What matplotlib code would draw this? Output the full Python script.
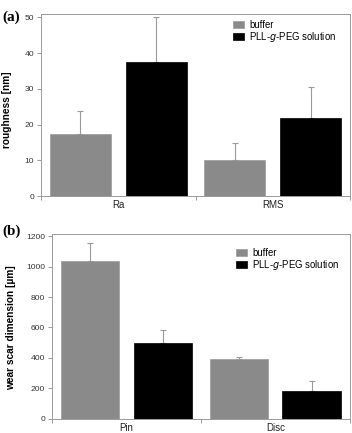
import numpy as np
import matplotlib.pyplot as plt

# panel (a): surface roughness
rough_cats = ['Ra', 'RMS']
rough_buffer = [17.3, 10.2]
rough_buffer_err = [6.6, 4.7]
rough_peg = [37.4, 22.0]
rough_peg_err = [12.6, 8.6]

# panel (b): wear scar dimension
wear_cats = ['Pin', 'Disc']
wear_buffer = [1040, 390]
wear_buffer_err = [115, 18]
wear_peg = [495, 185]
wear_peg_err = [90, 60]

series_names = ['buffer', 'PLL-$\\it{g}$-PEG solution']

plt.rcParams['font.family'] = ['Liberation Sans', 'DejaVu Sans']
spine_col = '#9a9a9a'
gray = '#8a8a8a'


def draw(ax, cats, buf, buf_err, peg, peg_err, ylim, yticks, ylabel, lab_xy, leg_anchor):
    x = np.arange(len(cats))
    w = 0.395
    off = 0.245
    ax.bar(x - off, buf, w, color=gray, edgecolor='#9a9a9a', linewidth=0.5,
           label=series_names[0], zorder=2)
    ax.bar(x + off, peg, w, color='black', edgecolor='black', linewidth=0.5,
           label=series_names[1], zorder=2)
    ax.errorbar(x - off, buf, yerr=[np.zeros(len(cats)), buf_err], fmt='none',
                ecolor='#9a9a9a', elinewidth=0.8, capsize=2.5, capthick=0.8, zorder=1)
    ax.errorbar(x + off, peg, yerr=[np.zeros(len(cats)), peg_err], fmt='none',
                ecolor='#9a9a9a', elinewidth=0.8, capsize=2.5, capthick=0.8, zorder=1)
    ax.set_xlim(-0.5, len(cats) - 0.5)
    ax.set_ylim(*ylim)
    ax.set_yticks(yticks)
    ax.set_xticks(np.arange(len(cats) + 1) - 0.5)
    ax.set_xticklabels([])
    ax.set_xticks(x, minor=True)
    ax.set_xticklabels(cats, minor=True, fontsize=7, color='#222222')
    ax.tick_params(axis='x', which='minor', length=0, pad=3)
    ax.tick_params(axis='x', which='major', length=3, color=spine_col, width=0.7)
    ax.tick_params(axis='y', length=3, color=spine_col, width=0.7,
                   labelsize=6.1, labelcolor='#333333', pad=2)
    for s in ax.spines.values():
        s.set_color(spine_col)
        s.set_linewidth(0.7)
    ax.set_ylabel(ylabel, fontsize=7.3, fontweight='bold')
    ax.yaxis.set_label_coords(*lab_xy)
    ax.legend(loc='upper left', bbox_to_anchor=leg_anchor, frameon=False,
              fontsize=6.9, handlelength=1.15, handleheight=0.8,
              handletextpad=0.55, labelspacing=0.0, borderaxespad=0)


fig = plt.figure(figsize=(3.52, 4.33), dpi=100)
ax1 = fig.add_axes([0.1165, 0.5467, 0.878, 0.4215])
draw(ax1, rough_cats, rough_buffer, rough_buffer_err, rough_peg, rough_peg_err,
     (0, 51), [0, 10, 20, 30, 40, 50], 'roughness [nm]', (-0.094, 0.477), (0.608, 0.986))
fig.text(0.006, 0.96, '(a)', family=['Liberation Serif', 'DejaVu Serif'],
         fontweight='bold', fontsize=11, va='center')

ax2 = fig.add_axes([0.1477, 0.033, 0.8463, 0.4273])
draw(ax2, wear_cats, wear_buffer, wear_buffer_err, wear_peg, wear_peg_err,
     (0, 1217), [0, 200, 400, 600, 800, 1000, 1200], 'wear scar dimension [µm]',
     (-0.121, 0.492), (0.604, 0.945))
fig.text(0.006, 0.4654, '(b)', family=['Liberation Serif', 'DejaVu Serif'],
         fontweight='bold', fontsize=11, va='center')

fig.savefig('out.png', dpi=100)
